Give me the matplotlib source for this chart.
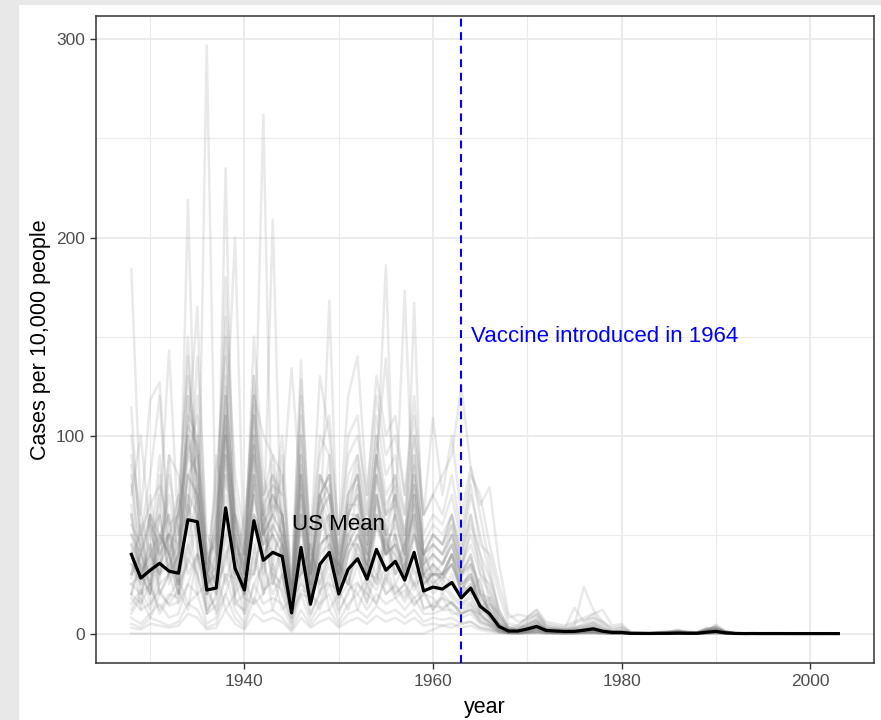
import numpy as np
import matplotlib
matplotlib.use("Agg")
import matplotlib.pyplot as plt
from matplotlib.patches import Rectangle

plt.rcParams["font.family"] = ["Liberation Sans", "DejaVu Sans"]

# ---------------------------------------------------------------- data
years = list(range(1928, 2004))

# population-weighted national measles rate (cases per 10,000 people)
us_mean = [40, 28, 32, 35.5, 31.5, 30.5, 57.5, 56.5, 22, 23,
           63.5, 33, 22, 57, 37, 41, 39, 10.5, 43.5, 14.8,
           35, 41, 20, 32.5, 37.8, 27.5, 42.5, 32, 36.5, 27,
           41, 21.5, 23.5, 22.5, 25.8, 18, 23, 13.8, 10, 3.6,
           1.3, 1.3, 2.3, 3.6, 1.6, 1.3, 1.1, 1.1, 1.7, 2.4,
           1.2, 0.6, 0.6, 0.1, 0.08, 0.06, 0.1, 0.12, 0.25, 0.15,
           0.14, 0.7, 1.1, 0.4, 0.09, 0.01, 0.04, 0.01, 0.02, 0.01,
           0.004, 0.004, 0.003, 0.004, 0.002, 0.002]

# state-level rates, 1928-2003
state_01 = [45, 12, 60, 25, 90, 30, 70, 20, 297, 40, 110, 30, 60, 95, 20, 85, 40, 15, 100, 30,
            60, 70, 25, 60, 85, 30, 70, 40, 60, 35, 70, 30, 40, 35, 50, 30,
            40, 20, 12, 4, 1, 1, 3, 5, 2, 1, 1, 1, 2, 3, 1, 0.5, 0.5,
            0, 0, 0, 0, 0, 0.2, 0, 0, 0.5, 1.2, 0.3, 0, 0, 0, 0, 0, 0, 0, 0, 0, 0, 0, 0]
state_02 = [30, 55, 20, 80, 40, 25, 120, 40, 15, 90, 60, 20, 45, 70, 262, 30, 25, 10, 80, 20,
            50, 90, 15, 40, 75, 25, 60, 50, 30, 45, 60, 20, 35, 25, 40, 20,
            25, 15, 10, 3, 0.5, 1, 2, 4, 1, 1, 0.5, 1, 1, 2, 1, 0.3, 0.2,
            0.2, 0.1, 0.1, 0.2, 0.3, 0.5, 0.2, 0.2, 1.5, 2.5, 0.8, 0.1, 0, 0.1, 0, 0, 0, 0, 0, 0, 0, 0, 0]
state_03 = [60, 20, 35, 70, 25, 40, 100, 60, 10, 20, 235, 15, 20, 110, 40, 50, 30, 8, 70, 15,
            40, 60, 20, 50, 40, 30, 80, 25, 50, 30, 60, 25, 30, 28, 35, 22,
            30, 12, 18, 5, 1, 0.5, 1, 3, 2, 1, 1, 0.5, 1, 1, 0.5, 0.2, 0.3,
            0.1, 0, 0.1, 0.1, 0.2, 0.3, 0.4, 0.1, 0.5, 1.5, 0.5, 0.1, 0, 0, 0, 0, 0, 0, 0, 0, 0, 0, 0]
state_04 = [50, 30, 20, 45, 60, 20, 219, 45, 10, 30, 90, 40, 15, 80, 30, 70, 50, 12, 60, 20,
            45, 50, 25, 45, 55, 35, 60, 40, 45, 30, 55, 25, 30, 30, 35, 25,
            20, 28, 8, 2, 0.8, 1, 2, 6, 1, 2, 0.5, 1, 2, 4, 1, 0.5, 0.4,
            0, 0.1, 0, 0.3, 0.1, 0.2, 0.1, 0.3, 1.0, 4.5, 1.2, 0.2, 0, 0.1, 0, 0, 0, 0, 0, 0, 0, 0, 0]
state_05 = [20, 40, 60, 20, 30, 70, 50, 100, 30, 25, 80, 50, 20, 60, 45, 209, 30, 10, 40, 25,
            70, 40, 30, 55, 60, 20, 55, 45, 40, 25, 50, 30, 25, 30, 40, 20,
            35, 10, 15, 6, 2, 0.5, 3, 2, 1, 0.5, 1, 2, 1, 2, 1, 1, 0.5,
            0.3, 0.2, 0.1, 0.1, 0.5, 1.0, 0.3, 0.2, 2.0, 1.0, 0.3, 0, 0, 0, 0.1, 0, 0, 0, 0, 0, 0, 0, 0]
state_06 = [184, 60, 40, 30, 80, 50, 60, 120, 40, 30, 100, 200, 30, 70, 50, 60, 80, 20, 90, 30,
            70, 80, 40, 70, 90, 50, 100, 60, 80, 50, 90, 40, 50, 45, 60, 35,
            60, 30, 25, 8, 2, 3, 4, 8, 3, 2, 1, 2, 3, 5, 2, 1, 1,
            0.2, 0.3, 0.1, 0.5, 0.8, 1.5, 0.4, 0.3, 1.2, 3.0, 1.0, 0.2, 0, 0, 0, 0, 0, 0, 0, 0, 0, 0, 0]
state_07 = [80, 30, 60, 50, 40, 60, 100, 165, 30, 50, 180, 70, 40, 130, 60, 80, 60, 20, 110, 25,
            80, 70, 30, 60, 70, 45, 90, 50, 70, 40, 80, 35, 45, 40, 55, 30,
            55, 40, 15, 10, 3, 2, 5, 7, 2, 3, 2, 3, 4, 6, 3, 1, 1,
            0.4, 0.2, 0.2, 0.3, 0.6, 0.4, 0.8, 0.5, 2.5, 1.8, 0.6, 0.1, 0, 0.1, 0, 0, 0, 0, 0, 0, 0, 0, 0]
state_08 = [40, 25, 50, 60, 30, 40, 80, 70, 20, 30, 100, 40, 20, 90, 50, 60, 50, 15, 70, 20,
            50, 168, 25, 50, 60, 30, 70, 40, 50, 30, 70, 25, 30, 30, 40, 25,
            30, 20, 10, 3, 1, 1, 2, 3, 1, 1, 0.5, 0.5, 1, 2, 1, 0.5, 0.3,
            0.1, 0.1, 0, 0.1, 0.1, 0.3, 0.2, 0.1, 0.6, 1.0, 0.3, 0, 0, 0, 0, 0, 0, 0, 0, 0, 0, 0, 0]
state_09 = [30, 40, 25, 50, 40, 20, 90, 80, 20, 40, 110, 30, 20, 80, 50, 40, 50, 10, 60, 25,
            50, 60, 20, 60, 60, 40, 80, 186, 40, 30, 70, 30, 35, 30, 40, 25,
            28, 18, 12, 4, 1, 0.5, 2, 4, 2, 1, 1, 1, 2, 2, 1, 0.5, 0.3,
            0, 0, 0.1, 0.2, 0.1, 0.2, 0.1, 0.1, 0.8, 2.0, 0.6, 0.1, 0, 0, 0, 0, 0, 0, 0, 0, 0, 0, 0]
state_10 = [25, 20, 40, 30, 50, 25, 70, 60, 30, 20, 90, 40, 25, 70, 40, 50, 40, 12, 60, 20,
            45, 50, 20, 40, 50, 35, 60, 40, 60, 173, 50, 40, 30, 35, 45, 25,
            30, 15, 8, 3, 1, 1, 1, 3, 1, 0.5, 1, 0.5, 1, 3, 1, 0.5, 0.3,
            0.1, 0, 0, 0.1, 0.2, 0.1, 0.1, 0.2, 0.4, 0.9, 0.2, 0, 0, 0, 0, 0, 0, 0, 0, 0, 0, 0, 0]
state_11 = [35, 30, 20, 60, 30, 40, 80, 70, 25, 30, 100, 30, 30, 60, 45, 55, 45, 15, 55, 20,
            60, 45, 30, 45, 55, 30, 70, 50, 50, 30, 167, 30, 35, 30, 40, 30,
            35, 25, 10, 5, 2, 1, 3, 4, 2, 1, 1, 1, 2, 3, 1, 1, 0.5,
            0.2, 0.1, 0.1, 0.2, 0.3, 0.6, 0.2, 0.2, 1.1, 1.6, 0.4, 0.1, 0, 0, 0, 0, 0, 0, 0, 0, 0, 0, 0]
state_12 = [60, 30, 40, 50, 60, 30, 120, 90, 30, 40, 130, 50, 30, 100, 60, 70, 60, 20, 138, 30,
            70, 80, 30, 70, 80, 50, 90, 139, 60, 40, 90, 40, 50, 45, 60, 40,
            70, 50, 30, 12, 3, 2, 6, 10, 3, 2, 2, 3, 5, 8, 4, 1, 2,
            0.3, 0.2, 0.2, 0.4, 0.5, 1.2, 0.5, 0.4, 1.8, 3.5, 1.0, 0.2, 0, 0.1, 0, 0, 0, 0, 0, 0, 0, 0, 0]
state_13 = [50, 40, 60, 40, 50, 45, 110, 100, 40, 45, 120, 60, 40, 110, 70, 80, 70, 134, 70, 40,
            80, 70, 40, 80, 90, 60, 100, 70, 80, 60, 100, 60, 70, 80, 90, 125,
            84, 60, 35, 10, 3, 4, 8, 12, 4, 3, 2, 4, 23.6, 12, 6, 2, 3,
            0.5, 0.3, 0.2, 0.6, 1.0, 1.5, 0.6, 0.5, 2.2, 4.0, 1.3, 0.3, 0.1, 0.1, 0, 0, 0, 0, 0, 0, 0, 0, 0]
state_14 = [15, 22, 12, 25, 30, 15, 25, 40, 22, 12, 30, 28, 10, 25, 35, 20, 30, 8, 22, 20,
            15, 30, 18, 25, 20, 28, 22, 35, 20, 25, 18, 22, 12, 20, 15, 12,
            15, 8, 6, 2, 0.5, 0.3, 1, 2, 1, 0.5, 0.3, 0.5, 1, 1, 0.5, 0.2, 0.2,
            0, 0, 0, 0.1, 0.1, 0.1, 0, 0.1, 0.3, 0.6, 0.2, 0, 0, 0, 0, 0, 0, 0, 0, 0, 0, 0, 0]
state_15 = [20, 15, 25, 12, 20, 18, 45, 30, 12, 18, 50, 15, 12, 45, 20, 35, 20, 6, 35, 10,
            20, 35, 12, 20, 35, 15, 40, 20, 25, 18, 35, 12, 15, 18, 15, 10,
            12, 10, 5, 2, 0.5, 0.5, 1, 1, 0.5, 0.5, 0.5, 0.3, 0.5, 1, 0.5, 0.2, 0.1,
            0, 0.1, 0, 0, 0.1, 0.2, 0.1, 0, 0.4, 0.8, 0.2, 0, 0, 0, 0, 0, 0, 0, 0, 0, 0, 0, 0]
state_16 = [10, 18, 8, 20, 15, 22, 12, 40, 25, 10, 20, 35, 18, 15, 40, 12, 30, 10, 20, 18,
            35, 12, 20, 30, 12, 25, 15, 30, 20, 25, 15, 20, 12, 18, 10, 10,
            14, 6, 4, 1, 0.3, 0.5, 1, 2, 0.5, 0.3, 0.2, 0.5, 1, 1, 0.5, 0.1, 0.2,
            0, 0, 0.1, 0, 0.1, 0.1, 0.1, 0, 0.2, 0.5, 0.1, 0, 0, 0, 0, 0, 0, 0, 0, 0, 0, 0, 0]
state_17 = [8, 5, 10, 15, 8, 10, 25, 20, 5, 8, 30, 12, 5, 25, 15, 18, 15, 3, 20, 6,
            15, 20, 6, 15, 20, 12, 20, 15, 18, 12, 18, 10, 10, 12, 12, 8,
            10, 5, 3, 1, 0.3, 0.2, 0.5, 1, 0.5, 0.3, 0.2, 0.2, 0.5, 0.5, 0.3, 0.1, 0.1,
            0, 0, 0, 0, 0, 0.1, 0, 0, 0.2, 0.4, 0.1, 0, 0, 0, 0, 0, 0, 0, 0, 0, 0, 0, 0]
state_18 = [5, 3, 8, 6, 4, 6, 15, 12, 3, 5, 20, 8, 3, 18, 10, 12, 8, 2, 12, 4,
            10, 12, 4, 10, 12, 8, 14, 10, 12, 8, 12, 6, 8, 7, 8, 5,
            6, 3, 2, 0.5, 0.2, 0.1, 0.3, 0.5, 0.2, 0.1, 0.1, 0.1, 0.3, 0.3, 0.2, 0.1, 0,
            0, 0, 0, 0, 0, 0, 0, 0, 0.1, 0.2, 0, 0, 0, 0, 0, 0, 0, 0, 0, 0, 0, 0, 0]
state_19 = [30, 45, 25, 40, 50, 30, 45, 70, 35, 25, 50, 60, 20, 40, 65, 35, 60, 20, 35, 40,
            30, 55, 35, 30, 50, 40, 30, 55, 35, 45, 30, 35, 25, 30, 25, 20,
            25, 12, 8, 3, 1, 1, 2, 3, 1, 1, 0.5, 1, 1, 2, 1, 0.3, 0.3,
            0.1, 0.1, 0, 0.2, 0.2, 0.4, 0.2, 0.1, 0.7, 1.4, 0.4, 0.1, 0, 0, 0, 0, 0, 0, 0, 0, 0, 0, 0]
state_20 = [45, 35, 25, 50, 40, 25, 60, 75, 20, 35, 80, 40, 25, 75, 35, 55, 45, 12, 55, 18,
            45, 50, 22, 40, 50, 35, 55, 40, 45, 35, 50, 30, 30, 28, 35, 22,
            28, 16, 9, 3, 1, 1, 2, 4, 1, 1, 1, 1, 2, 2, 1, 0.5, 0.5,
            0.1, 0.2, 0.1, 0.1, 0.3, 0.3, 0.3, 0.2, 0.9, 1.7, 0.5, 0.1, 0, 0, 0, 0, 0, 0, 0, 0, 0, 0, 0]
state_21 = [100, 50, 80, 120, 40, 60, 150, 60, 20, 80, 140, 50, 30, 150, 80, 60, 100, 20, 120, 40,
            100, 90, 40, 100, 110, 60, 110, 80, 90, 60, 100, 50, 60, 55, 70, 45,
            75, 45, 40, 20, 5, 4, 8, 10, 5, 4, 3, 13, 6, 10, 5, 2, 3,
            0.4, 0.3, 0.2, 0.5, 0.9, 2.0, 0.7, 0.4, 1.6, 2.8, 0.9, 0.2, 0, 0.1, 0, 0, 0, 0, 0, 0, 0, 0, 0]
state_22 = [70, 100, 50, 40, 90, 80, 60, 140, 50, 40, 160, 80, 50, 120, 100, 90, 60, 25, 100, 50,
            90, 110, 50, 90, 100, 70, 120, 90, 100, 70, 110, 60, 70, 60, 80, 50,
            80, 70, 45, 25, 8, 9.6, 8.7, 12, 6, 5, 4, 6, 8, 10, 12, 4, 5,
            0.6, 0.4, 0.3, 0.8, 1.2, 1.0, 0.9, 0.6, 3.0, 2.2, 0.7, 0.2, 0.1, 0.1, 0, 0, 0, 0, 0, 0, 0, 0, 0]
state_23 = [114, 40, 30, 60, 143, 50, 100, 80, 30, 60, 120, 40, 40, 100, 60, 50, 90, 15, 80, 30,
            80, 60, 30, 70, 80, 40, 90, 60, 70, 50, 80, 40, 45, 40, 50, 30,
            40, 20, 18, 6, 2, 2, 3, 5, 2, 1, 1, 2, 2, 3, 1, 0.5, 1,
            0.2, 0.1, 0.1, 0.3, 0.4, 0.7, 0.3, 0.2, 1.3, 2.1, 0.6, 0.1, 0, 0, 0, 0, 0, 0, 0, 0, 0, 0, 0]
state_24 = [90, 60, 118, 127, 50, 70, 130, 90, 40, 70, 150, 60, 45, 130, 70, 90, 80, 30, 128, 45,
            130, 100, 50, 120, 140, 70, 130, 100, 110, 70, 120, 60, 109, 70, 100, 60,
            84, 65, 74, 35, 10, 6, 7, 9, 4, 3, 3, 5, 7, 8, 6, 3, 4,
            0.5, 0.4, 0.3, 0.6, 0.8, 1.4, 0.8, 0.7, 2.4, 3.2, 1.1, 0.3, 0.1, 0.1, 0, 0, 0, 0, 0, 0, 0, 0, 0]
state_25 = [25, 30, 45, 20, 30, 55, 30, 40, 35, 50, 25, 45, 35, 30, 55, 25, 40, 25, 30, 45,
            20, 40, 35, 25, 45, 35, 25, 50, 30, 35, 25, 40, 28, 20, 30, 15,
            18, 10, 6, 2, 0.5, 0.5, 1, 2, 1, 0.5, 0.5, 0.5, 1, 1, 0.5, 0.2, 0.2,
            0, 0.1, 0, 0.1, 0.1, 0.2, 0.1, 0.1, 0.3, 0.7, 0.2, 0, 0, 0, 0, 0, 0, 0, 0, 0, 0, 0, 0]
state_26 = [35, 25, 45, 30, 35, 20, 65, 50, 25, 35, 70, 45, 22, 60, 45, 50, 40, 12, 45, 20,
            40, 45, 25, 45, 45, 30, 55, 40, 45, 30, 50, 28, 30, 30, 35, 20,
            22, 14, 8, 3, 1, 1, 2, 3, 1, 1, 0.5, 1, 1, 2, 1, 0.3, 0.3,
            0.1, 0, 0.1, 0.1, 0.2, 0.3, 0.2, 0.1, 0.6, 1.2, 0.3, 0, 0, 0, 0, 0, 0, 0, 0, 0, 0, 0, 0]
state_27 = [12, 20, 25, 10, 18, 28, 15, 20, 25, 30, 12, 20, 28, 15, 20, 30, 12, 18, 25, 20,
            12, 25, 22, 12, 25, 20, 15, 28, 18, 22, 14, 20, 18, 12, 16, 10,
            12, 6, 4, 1, 0.3, 0.3, 0.5, 1, 0.5, 0.3, 0.2, 0.3, 0.5, 0.5, 0.3, 0.1, 0.1,
            0, 0, 0, 0, 0.1, 0.1, 0, 0, 0.2, 0.3, 0.1, 0, 0, 0, 0, 0, 0, 0, 0, 0, 0, 0, 0]
state_28 = [55, 45, 70, 35, 50, 60, 90, 110, 35, 50, 100, 60, 35, 90, 55, 70, 60, 18, 80, 25,
            60, 70, 35, 60, 70, 45, 80, 60, 65, 45, 75, 40, 45, 40, 50, 35,
            45, 30, 20, 8, 2, 2, 4, 6, 2, 2, 1, 2, 3, 4, 2, 1, 1,
            0.3, 0.2, 0.1, 0.3, 0.5, 0.9, 0.4, 0.3, 1.4, 2.4, 0.7, 0.1, 0, 0.1, 0, 0, 0, 0, 0, 0, 0, 0, 0]
state_29 = [65, 30, 40, 90, 35, 45, 140, 70, 25, 60, 110, 45, 30, 120, 50, 75, 55, 15, 90, 30,
            70, 55, 30, 65, 65, 40, 70, 50, 60, 40, 65, 35, 40, 35, 45, 30,
            38, 22, 15, 5, 1, 1, 3, 4, 2, 1, 1, 1, 2, 3, 1, 0.5, 0.5,
            0.2, 0.1, 0.1, 0.2, 0.3, 0.5, 0.2, 0.2, 1.0, 1.9, 0.5, 0.1, 0, 0, 0, 0, 0, 0, 0, 0, 0, 0, 0]
state_30 = [20, 35, 15, 30, 40, 20, 40, 60, 30, 20, 40, 50, 25, 30, 55, 25, 45, 20, 30, 35,
            25, 45, 30, 25, 40, 35, 25, 45, 25, 35, 22, 30, 20, 25, 18, 14,
            16, 9, 5, 2, 0.5, 0.5, 1, 1, 0.5, 0.5, 0.3, 0.5, 1, 1, 0.5, 0.2, 0.2,
            0, 0, 0.1, 0.1, 0.1, 0.2, 0.1, 0.1, 0.3, 0.6, 0.2, 0, 0, 0, 0, 0, 0, 0, 0, 0, 0, 0, 0]
state_31 = [40, 50, 30, 45, 50, 35, 80, 90, 25, 40, 90, 50, 30, 80, 50, 60, 50, 15, 65, 25,
            55, 60, 28, 50, 60, 40, 65, 45, 55, 40, 60, 35, 40, 35, 45, 28,
            35, 20, 12, 4, 1, 1, 2, 3, 1, 1, 1, 1, 2, 2, 1, 0.5, 0.5,
            0.1, 0.1, 0.1, 0.2, 0.3, 0.4, 0.2, 0.2, 0.9, 1.5, 0.4, 0.1, 0, 0, 0, 0, 0, 0, 0, 0, 0, 0, 0]
state_32 = [3, 2, 5, 4, 3, 4, 10, 8, 2, 3, 12, 5, 2, 10, 6, 8, 6, 1, 8, 3,
            6, 8, 3, 6, 8, 5, 9, 6, 8, 5, 8, 4, 5, 4, 5, 3,
            4, 2, 1, 0.3, 0.1, 0.1, 0.2, 0.3, 0.1, 0.1, 0.1, 0.1, 0.1, 0.2, 0.1, 0, 0,
            0, 0, 0, 0, 0, 0, 0, 0, 0, 0.1, 0, 0, 0, 0, 0, 0, 0, 0, 0, 0, 0, 0, 0]
state_33 = [28, 40, 20, 35, 45, 25, 35, 55, 40, 25, 35, 60, 30, 30, 60, 30, 45, 25, 30, 45,
            25, 40, 35, 25, 45, 30, 28, 48, 30, 40, 24, 30, 22, 28, 20, 15,
            20, 10, 6, 2, 0.5, 0.5, 1, 2, 1, 0.5, 0.5, 0.5, 1, 1, 0.5, 0.2, 0.2,
            0.1, 0, 0, 0.1, 0.1, 0.2, 0.1, 0.1, 0.5, 0.9, 0.2, 0, 0, 0, 0, 0, 0, 0, 0, 0, 0, 0, 0]
state_34 = [75, 40, 55, 45, 70, 40, 95, 80, 35, 55, 105, 55, 35, 95, 55, 65, 60, 18, 75, 30,
            65, 75, 35, 60, 75, 45, 80, 55, 70, 45, 75, 40, 50, 45, 55, 35,
            50, 35, 22, 9, 2, 2, 4, 6, 2, 2, 1, 2, 3, 5, 2, 1, 1,
            0.3, 0.2, 0.2, 0.4, 0.6, 0.8, 0.5, 0.3, 1.7, 2.6, 0.8, 0.2, 0, 0.1, 0, 0, 0, 0, 0, 0, 0, 0, 0]
state_35 = [18, 12, 15, 22, 14, 16, 38, 30, 10, 14, 42, 18, 10, 38, 22, 26, 22, 5, 28, 9,
            22, 26, 10, 22, 26, 16, 30, 20, 24, 16, 26, 13, 14, 13, 16, 10,
            12, 7, 4, 1, 0.3, 0.3, 0.5, 1, 0.5, 0.3, 0.2, 0.3, 0.5, 0.5, 0.3, 0.1, 0.1,
            0, 0, 0, 0.1, 0, 0.1, 0.1, 0, 0.2, 0.4, 0.1, 0, 0, 0, 0, 0, 0, 0, 0, 0, 0, 0, 0]
state_36 = [85, 50, 65, 75, 55, 60, 105, 95, 30, 45, 125, 55, 40, 115, 65, 75, 70, 20, 85, 30,
            70, 80, 35, 65, 80, 50, 90, 65, 75, 50, 85, 45, 55, 50, 60, 40,
            60, 40, 28, 12, 3, 3, 5, 7, 3, 2, 2, 3, 4, 6, 3, 1, 1.5,
            0.4, 0.3, 0.2, 0.4, 0.7, 1.1, 0.6, 0.4, 1.9, 2.9, 0.9, 0.2, 0, 0.1, 0, 0, 0, 0, 0, 0, 0, 0, 0]
state_37 = [0, 0, 0, 0, 0, 0, 0, 0, 0, 0, 0, 0, 0, 0, 0, 0, 0, 0, 0, 0,
            0, 0, 0, 0, 0, 0, 0, 0, 0, 0, 0, 0, 2, 4, 3, 5,
            6, 3, 2, 1, 0.5, 0.2, 0.3, 0.5, 0.2, 0.1, 0.1, 0.2, 0.3, 0.3, 0.1, 0.1, 0,
            0, 0, 0, 0, 0, 0, 0, 0, 0.1, 0.2, 0, 0, 0, 0, 0, 0, 0, 0, 0, 0, 0, 0, 0]

state_rates = [state_01, state_02, state_03, state_04, state_05, state_06,
               state_07, state_08, state_09, state_10, state_11, state_12,
               state_13, state_14, state_15, state_16, state_17, state_18,
               state_19, state_20, state_21, state_22, state_23, state_24,
               state_25, state_26, state_27, state_28, state_29, state_30,
               state_31, state_32, state_33, state_34, state_35, state_36,
               state_37]

vaccine_year = 1963
x_ticks = [1940, 1960, 1980, 2000]
y_ticks = [0, 100, 200, 300]

# ---------------------------------------------------------------- figure
W, H = 881, 720
fig = plt.figure(figsize=(W / 100, H / 100), dpi=100)
fig.patch.set_facecolor("#e8e8e8")
fig.add_artist(Rectangle((19 / W, 0), 1 - 19 / W, 1 - 5 / H,
                         transform=fig.transFigure, facecolor="white",
                         edgecolor="none", zorder=0))

left, right, top, bottom = 96, 873.7, 16, 663
ax = fig.add_axes([left / W, 1 - bottom / H, (right - left) / W, (bottom - top) / H])
ax.set_facecolor("white")

for rates in state_rates:
    ax.plot(years, rates, color="#808080", alpha=0.17, lw=1.8,
            solid_joinstyle="round", zorder=2)

ax.plot(years, us_mean, color="black", lw=2.3, solid_joinstyle="round", zorder=4)

ax.axvline(vaccine_year, color="blue", lw=1.5, linestyle=(0, (3.8, 2.7)), zorder=5)

ax.text(1950, 55, "US Mean", fontsize=16, color="black",
        ha="center", va="center", zorder=6)
ax.text(1964, 150, "Vaccine introduced in 1964", fontsize=16, color="blue",
        ha="left", va="center", zorder=6)

# axis ranges with 5% padding on each side
ymax = max(max(r) for r in state_rates)
ax.set_xlim(1928 - 0.05 * 75, 2003 + 0.05 * 75)
ax.set_ylim(-0.05 * ymax, ymax * 1.05)

ax.set_xticks(x_ticks)
ax.set_yticks(y_ticks)
ax.set_xticks([1930, 1950, 1970, 1990], minor=True)
ax.set_yticks([50, 150, 250], minor=True)
ax.grid(which="major", color="#ebebeb", lw=1.4, zorder=0)
ax.grid(which="minor", color="#ebebeb", lw=0.8, zorder=0)
ax.set_axisbelow(True)

ax.tick_params(which="major", length=4.3, width=1.0, color="#333333",
               labelsize=12.5, labelcolor="#4d4d4d", pad=3.6)
ax.tick_params(which="minor", length=0)
for s in ax.spines.values():
    s.set_color("#333333")
    s.set_linewidth(1.1)

ax.set_xlabel("year", fontsize=15.5, color="black")
ax.set_ylabel("Cases per 10,000 people", fontsize=15.5, color="black")
ax.xaxis.set_label_coords(0.5, -0.052)
ax.yaxis.set_label_coords(-0.058, 0.5)

fig.savefig("out.png", dpi=100, facecolor=fig.get_facecolor())
